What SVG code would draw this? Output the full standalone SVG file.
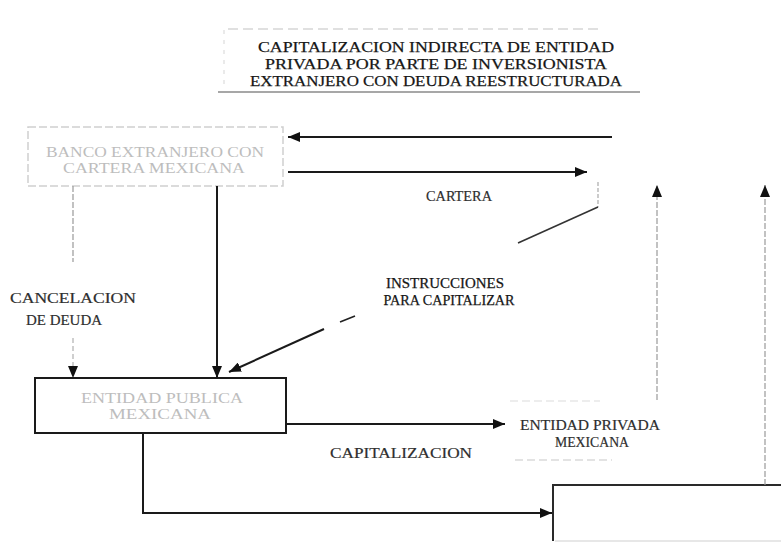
<svg xmlns="http://www.w3.org/2000/svg" width="781" height="543" viewBox="0 0 781 543">
<style>
text{font-family:"Liberation Serif","Times New Roman",serif;font-size:15.5px;text-anchor:middle}
.lbl{font-size:15px}
.dark{fill:#161616;stroke:#161616;stroke-width:0.25}
.mid{fill:#2e2e2e;stroke:#2e2e2e;stroke-width:0.2}
.faint{fill:#bdbdbd;font-size:14.5px}
.ln{stroke:#1a1a1a;stroke-width:2;fill:none}
.lg{stroke:#9a9a9a;stroke-width:1.2;fill:none;stroke-dasharray:6 2}
.box{fill:none;stroke:#cfcfcf;stroke-width:1.5;stroke-dasharray:8 3}
</style>
<defs>
<marker id="ah" viewBox="0 0 12 10" refX="12" refY="5" markerWidth="12" markerHeight="10" markerUnits="userSpaceOnUse" orient="auto">
<path d="M0,0 L12,5 L0,10 z" fill="#111"/>
</marker>
</defs>
<rect width="781" height="543" fill="#fff"/>

<g id="title">
<path d="M228,29 H600" stroke="#d6d6d6" stroke-width="1.5" stroke-dasharray="10 5" fill="none"/>
<path d="M224,30 V90" stroke="#dcdcdc" stroke-width="1.2" stroke-dasharray="4 6" fill="none"/>
<path d="M218,92 H640" stroke="#8a8a8a" stroke-width="1.6" fill="none"/>
<text x="436" y="52" class="dark" textLength="356" lengthAdjust="spacingAndGlyphs">CAPITALIZACION INDIRECTA DE ENTIDAD</text>
<text x="436" y="69" class="dark" textLength="342" lengthAdjust="spacingAndGlyphs">PRIVADA POR PARTE DE INVERSIONISTA</text>
<text x="436" y="86" class="dark" textLength="372" lengthAdjust="spacingAndGlyphs">EXTRANJERO CON DEUDA REESTRUCTURADA</text>
</g>

<g id="banco">
<rect x="28" y="127" width="255" height="59" class="box"/>
<text x="155" y="157" class="faint" textLength="218" lengthAdjust="spacingAndGlyphs">BANCO EXTRANJERO CON</text>
<text x="154" y="173" class="faint" textLength="182" lengthAdjust="spacingAndGlyphs">CARTERA MEXICANA</text>
</g>

<g id="entidad-publica">
<rect x="35" y="378" width="251" height="55" fill="none" stroke="#1a1a1a" stroke-width="2"/>
<text x="162" y="403" class="faint" textLength="162" lengthAdjust="spacingAndGlyphs">ENTIDAD PUBLICA</text>
<text x="160" y="419" class="faint" textLength="102" lengthAdjust="spacingAndGlyphs">MEXICANA</text>
</g>

<g id="entidad-privada">
<path d="M510,401 H600" stroke="#dcdcdc" stroke-width="1.2" stroke-dasharray="8 4" fill="none"/>
<path d="M515,460 H612" stroke="#c8c8c8" stroke-width="1.2" stroke-dasharray="8 4" fill="none"/>
<text x="590" y="430" class="mid lbl" textLength="140" lengthAdjust="spacingAndGlyphs">ENTIDAD PRIVADA</text>
<text x="592" y="447" class="mid lbl" textLength="74" lengthAdjust="spacingAndGlyphs">MEXICANA</text>
</g>

<g id="inversionista">
<path d="M553,541 V485 H781" fill="none" stroke="#2a2a2a" stroke-width="2"/>
<path d="M555,541 H781" fill="none" stroke="#cfcfcf" stroke-width="1.2"/>
</g>

<g id="connectors">
<path d="M612,137 H288" class="ln" marker-end="url(#ah)"/>
<path d="M288,172 H587" class="ln" marker-end="url(#ah)"/>
<path d="M598,182 V207" stroke="#aaa" stroke-width="1.2" fill="none" stroke-dasharray="4 2"/>
<path d="M598,207 L518,243" stroke="#333" stroke-width="1.6" fill="none"/>
<path d="M355,316 L340,322" stroke="#222" stroke-width="1.8" fill="none"/>
<path d="M324,329 L229,372" class="ln" marker-end="url(#ah)"/>
<path d="M73,186 V262" stroke="#999" stroke-width="1.2" fill="none" stroke-dasharray="6 2"/>
<path d="M73,338 V378" stroke="#b0b0b0" stroke-width="1.2" fill="none" stroke-dasharray="5 3" marker-end="url(#ah)"/>
<path d="M217,186 V378" class="ln" marker-end="url(#ah)"/>
<path d="M286,424 H505" class="ln" marker-end="url(#ah)"/>
<path d="M143,433 V513 H552" class="ln" marker-end="url(#ah)"/>
<path d="M657,400 V185" class="lg" marker-end="url(#ah)"/>
<path d="M765,485 V185" class="lg" marker-end="url(#ah)"/>
</g>

<g id="labels">
<text x="459" y="201" class="mid lbl" textLength="66" lengthAdjust="spacingAndGlyphs">CARTERA</text>
<text x="445" y="288" class="dark lbl" textLength="118" lengthAdjust="spacingAndGlyphs">INSTRUCCIONES</text>
<text x="449" y="305" class="dark lbl" textLength="131" lengthAdjust="spacingAndGlyphs">PARA CAPITALIZAR</text>
<text x="73" y="303" class="mid lbl" textLength="126" lengthAdjust="spacingAndGlyphs">CANCELACION</text>
<text x="64" y="325" class="mid lbl" textLength="76" lengthAdjust="spacingAndGlyphs">DE DEUDA</text>
<text x="401" y="458" class="mid lbl" textLength="142" lengthAdjust="spacingAndGlyphs">CAPITALIZACION</text>
</g>
</svg>
